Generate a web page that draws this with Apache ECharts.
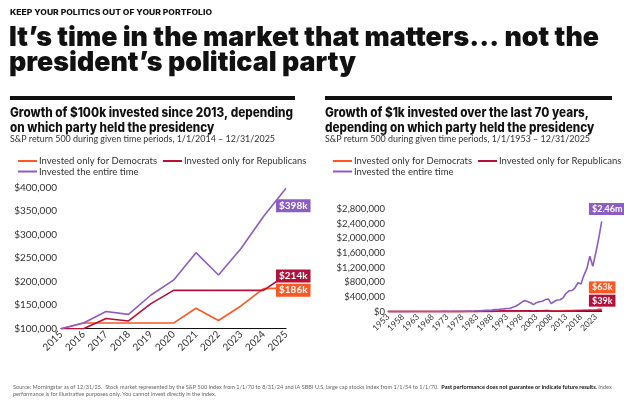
<!DOCTYPE html>
<html>
<head>
<meta charset="utf-8">
<script src="https://cdn.jsdelivr.net/npm/echarts@6/dist/echarts.min.js"></script>
<style>
html, body { margin: 0; padding: 0; background: #fff; }
#main { width: 624px; height: 403px; }
</style>
</head>
<body>
<div id="main"></div>
<script>
// left chart: $100k, 2015 - 2025
var recentYears = ['2015', '2016', '2017', '2018', '2019', '2020', '2021', '2022', '2023', '2024', '2025'];
var recentDemocrats = [100000, 112000, 112000, 112000, 112000, 112000, 143300, 117400, 148200, 185000, 186000];
var recentRepublicans = [100000, 100000, 121800, 116500, 153200, 181400, 181400, 181400, 181400, 181400, 214000];
var recentTotal = [100000, 112000, 136400, 130400, 171500, 203000, 261300, 214000, 270300, 337900, 398000];

// right chart: $1k, 1953 - 2025
var longYears = [
    '1953', '1954', '1955', '1956', '1957', '1958', '1959', '1960', '1961', '1962',
    '1963', '1964', '1965', '1966', '1967', '1968', '1969', '1970', '1971', '1972',
    '1973', '1974', '1975', '1976', '1977', '1978', '1979', '1980', '1981', '1982',
    '1983', '1984', '1985', '1986', '1987', '1988', '1989', '1990', '1991', '1992',
    '1993', '1994', '1995', '1996', '1997', '1998', '1999', '2000', '2001', '2002',
    '2003', '2004', '2005', '2006', '2007', '2008', '2009', '2010', '2011', '2012',
    '2013', '2014', '2015', '2016', '2017', '2018', '2019', '2020', '2021', '2022',
    '2023', '2024', '2025'
];
var longDemocrats = [
    1000, 1000, 1000, 1000, 1000, 1000, 1000, 1000, 1270, 1160,
    1420, 1660, 1870, 1680, 2080, 2310, 2310, 2310, 2310, 2310,
    2310, 2310, 2310, 2310, 2140, 2290, 2710, 3580, 3580, 3580,
    3580, 3580, 3580, 3580, 3580, 3580, 3580, 3580, 3580, 3580,
    3940, 4000, 5500, 6760, 9020, 11600, 14040, 12760, 12760, 12760,
    12760, 12760, 12760, 12760, 12760, 12760, 16140, 18580, 18970, 22000,
    29130, 33120, 33590, 37620, 37620, 37620, 37620, 37620, 48410, 39650,
    50080, 62600, 62600
];
var longRepublicans = [
    990, 1510, 1990, 2120, 1890, 2710, 3040, 3050, 3050, 3050,
    3050, 3050, 3050, 3050, 3050, 3050, 2790, 2900, 3320, 3950,
    3370, 2480, 3400, 4210, 4210, 4210, 4210, 4210, 4000, 4860,
    5950, 6320, 8360, 9900, 10420, 12170, 16000, 15510, 20230, 21770,
    21770, 21770, 21770, 21770, 21770, 21770, 21770, 21770, 19180, 14940,
    19230, 21330, 22370, 25910, 27330, 17220, 17220, 17220, 17220, 17220,
    17220, 17220, 17220, 17220, 20970, 20050, 26370, 31220, 31220, 31220,
    31220, 31220, 39000
];
var longTotal = [
    990, 1510, 1990, 2120, 1890, 2710, 3040, 3050, 3870, 3540,
    4340, 5060, 5690, 5110, 6340, 7050, 6450, 6700, 7660, 9120,
    7780, 5720, 7850, 9710, 9010, 9610, 11380, 15060, 14320, 17390,
    21300, 22640, 29940, 35470, 37320, 43590, 57320, 55540, 72480, 77990,
    85870, 86980, 119690, 147210, 196380, 252550, 305580, 277780, 244720, 190640,
    245350, 272090, 285430, 330520, 348700, 219680, 277900, 319860, 326580, 378830,
    501570, 570290, 578270, 647670, 788860, 754150, 991700, 1174180, 1511170, 1237650,
    1600000, 2000000, 2460000
];

var seriesNames = ['Invested only for Democrats', 'Invested only for Republicans', 'Invested the entire time'];
var colors = ['#ff5722', '#b5103a', '#8d5cc4'];

var footLine1 = 'Source: Morningstar as of 12/31/25.  Stock market represented by the S&P 500 Index from 1/1/70 to 8/31/24 and IA SBBI U.S. large cap stocks index from 1/1/54 to 1/1/70.  ';
var footBold = 'Past performance does not guarantee or indicate future results.';
var footLine2 = 'performance is for illustrative purposes only. You cannot invest directly in the index.';

var chart = echarts.init(document.getElementById('main'));

var measureCtx = document.createElement('canvas').getContext('2d');
function fitScale(text, weight, size, family, width) {
    measureCtx.font = weight + ' ' + size + 'px ' + family;
    return width / measureCtx.measureText(text).width;
}

function headText(text, x, y, weight, size, family, scale, color) {
    return {
        type: 'text',
        x: x,
        y: y,
        scaleX: scale,
        style: {
            text: text,
            fontWeight: weight,
            fontSize: size,
            fontFamily: family,
            fill: color || '#111',
            verticalAlign: 'middle'
        }
    };
}

function money(v) {
    return '$' + String(v).replace(/\B(?=(\d{3})+(?!\d))/g, ',');
}

function shortMoney(v) {
    if (v >= 1000000) return '$' + (v / 1000000).toFixed(2) + 'm';
    return '$' + Math.round(v / 1000) + 'k';
}

var titleScale = fitScale('It’s time in the market that matters… not the', 900, 27, 'Inter', 590);
var chartTitleScale = fitScale('Growth of $100k invested since 2013, depending', 800, 13, 'Inter', 283);
var subScale = fitScale('S&P return 500 during given time periods, 1/1/2014 – 12/31/2025', 'normal', 9.5, 'Lato', 265);
var headScale = fitScale('KEEP YOUR POLITICS OUT OF YOUR PORTFOLIO', 800, 7.5, 'Inter', 202);

function makeLine(name, data, color, gridIndex, label, width) {
    return {
        name: name,
        type: 'line',
        xAxisIndex: gridIndex,
        yAxisIndex: gridIndex,
        data: data,
        symbol: 'none',
        lineStyle: { color: color, width: width },
        itemStyle: { color: color },
        endLabel: {
            show: true,
            formatter: function (p) { return shortMoney(p.value); },
            color: '#fff',
            backgroundColor: color,
            fontFamily: 'Lato',
            fontWeight: 'bold',
            fontSize: label.size,
            padding: [2, 3, 1, 3],
            distance: 0,
            offset: label.offset
        }
    };
}

var axisText = { color: '#333', fontFamily: 'Lato', fontSize: 10 };

chart.setOption({
    animation: false,
    backgroundColor: '#fff',
    textStyle: { fontFamily: 'Lato' },
    title: [{
        left: 8,
        top: 379,
        text: footLine1 + '{b|' + footBold + '} Index\n' + footLine2,
        textStyle: {
            fontFamily: 'Lato',
            fontSize: 5.55,
            fontWeight: 'normal',
            color: '#666',
            lineHeight: 7,
            rich: {
                b: { fontFamily: 'Lato', fontSize: 5.55, fontWeight: 'bold', color: '#111', lineHeight: 7 }
            }
        }
    }],
    graphic: [
        headText('KEEP YOUR POLITICS OUT OF YOUR PORTFOLIO', 10, 12.5, 800, 7.5, 'Inter', headScale),
        headText('It’s time in the market that matters… not the', 9, 38, 900, 27, 'Inter', titleScale),
        headText('president’s political party', 9, 63, 900, 27, 'Inter', titleScale),
        { type: 'rect', shape: { x: 10, y: 96, width: 285, height: 4 }, style: { fill: '#111' } },
        { type: 'rect', shape: { x: 325, y: 96, width: 287, height: 4 }, style: { fill: '#111' } },
        headText('Growth of $100k invested since 2013, depending', 10, 113.5, 800, 13, 'Inter', chartTitleScale),
        headText('on which party held the presidency', 10, 128.5, 800, 13, 'Inter', chartTitleScale),
        headText('S&P return 500 during given time periods, 1/1/2014 – 12/31/2025', 10, 139, 'normal', 9.5, 'Lato', subScale, '#333'),
        headText('Growth of $1k invested over the last 70 years,', 325, 113.5, 800, 13, 'Inter', chartTitleScale),
        headText('depending on which party held the presidency', 325, 128.5, 800, 13, 'Inter', chartTitleScale),
        headText('S&P return 500 during given time periods, 1/1/1953 – 12/31/2025', 325, 139, 'normal', 9.5, 'Lato', subScale, '#333')
    ],
    legend: [
        { left: 18, top: 156, data: [seriesNames[0], seriesNames[1]] },
        { left: 18, top: 166.5, data: [seriesNames[2]] },
        { left: 333, top: 156, data: [seriesNames[0], seriesNames[1]] },
        { left: 333, top: 166.5, data: [seriesNames[2]] }
    ].map(function (l) {
        l.icon = 'rect';
        l.itemWidth = 19;
        l.itemHeight = 2;
        l.itemGap = 6;
        l.padding = 0;
        l.selectedMode = false;
        l.textStyle = { color: '#333', fontFamily: 'Lato', fontSize: 9.5, padding: [0, 0, 0, -3] };
        return l;
    }),
    grid: [
        { left: 61, right: 338, top: 187.3, bottom: 74.3 },
        { left: 388, right: 22.3, top: 209, bottom: 91.3 }
    ],
    xAxis: [{
        gridIndex: 0,
        type: 'category',
        boundaryGap: false,
        data: recentYears,
        axisLine: { lineStyle: { color: '#111', width: 1.2 } },
        axisTick: { show: false },
        axisLabel: Object.assign({ rotate: 45, margin: 4, interval: 0 }, axisText)
    }, {
        gridIndex: 1,
        type: 'category',
        boundaryGap: false,
        data: longYears,
        axisLine: { lineStyle: { color: '#111', width: 1 } },
        axisTick: { show: false },
        axisLabel: Object.assign({ rotate: 45, margin: 4, interval: 4 }, axisText, { fontSize: 8.5 })
    }],
    yAxis: [{
        gridIndex: 0,
        type: 'value',
        min: 100000,
        max: 400000,
        interval: 50000,
        splitLine: { show: false },
        axisLine: { show: false },
        axisTick: { show: false },
        axisLabel: Object.assign({ margin: 4, formatter: money }, axisText)
    }, {
        gridIndex: 1,
        type: 'value',
        min: 0,
        max: 2800000,
        interval: 400000,
        splitLine: { show: false },
        axisLine: { show: false },
        axisTick: { show: false },
        axisLabel: Object.assign({ margin: 3, formatter: money }, axisText, { fontSize: 9.5 })
    }],
    series: [
        makeLine(seriesNames[0], recentDemocrats, colors[0], 0, { size: 10, offset: [-10, 2] }, 1.6),
        makeLine(seriesNames[1], recentRepublicans, colors[1], 0, { size: 10, offset: [-10, 1] }, 1.6),
        makeLine(seriesNames[2], recentTotal, colors[2], 0, { size: 10, offset: [-10, 17.5] }, 1.6),
        makeLine(seriesNames[0], longDemocrats, colors[0], 1, { size: 9, offset: [-12.7, -22] }, 1.6),
        makeLine(seriesNames[1], longRepublicans, colors[1], 1, { size: 9, offset: [-12.7, -9.6] }, 1.8),
        makeLine(seriesNames[2], longTotal, colors[2], 1, { size: 9, offset: [-12.7, -12.5] }, 1.6)
    ]
});
</script>
</body>
</html>
